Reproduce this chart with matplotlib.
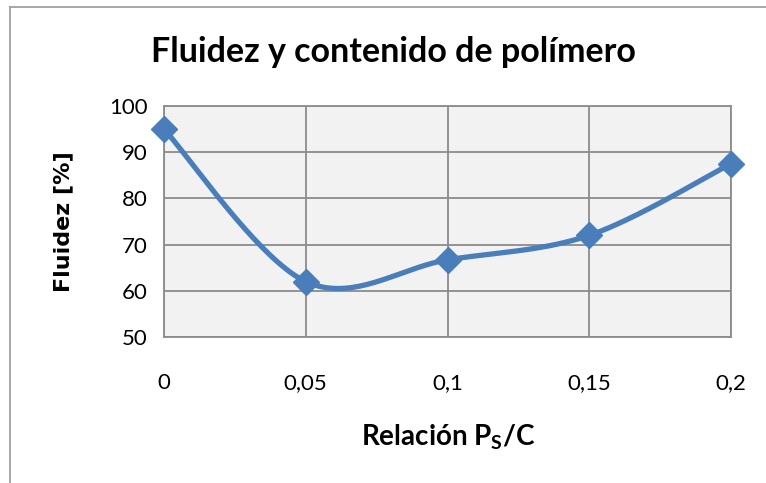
import numpy as np
import matplotlib
matplotlib.use("Agg")
import matplotlib.pyplot as plt
from matplotlib.lines import Line2D

x_vals = [0.0, 0.05, 0.1, 0.15, 0.2]
fluidez = [95.0, 62.0, 66.7, 72.0, 87.5]
x_ticklabels = ["0", "0,05", "0,1", "0,15", "0,2"]
y_ticks = [50, 60, 70, 80, 90, 100]

def smooth(xs, ys, n=40):
    # Excel-like smoothing: cubic Bezier with Catmull-Rom control points
    xs = np.asarray(xs, float); ys = np.asarray(ys, float)
    px = np.concatenate([[xs[0]], xs, [xs[-1]]])
    py = np.concatenate([[ys[0]], ys, [ys[-1]]])
    ox, oy = [], []
    for i in range(1, len(px) - 2):
        p0 = np.array([px[i-1], py[i-1]]); p1 = np.array([px[i], py[i]])
        p2 = np.array([px[i+1], py[i+1]]); p3 = np.array([px[i+2], py[i+2]])
        c1 = p1 + (p2 - p0) / 6.0
        c2 = p2 - (p3 - p1) / 6.0
        t = np.linspace(0, 1, n)[:, None]
        b = ((1-t)**3)*p1 + 3*((1-t)**2)*t*c1 + 3*(1-t)*t**2*c2 + t**3*p2
        ox.extend(b[:, 0]); oy.extend(b[:, 1])
    return np.array(ox), np.array(oy)

fig = plt.figure(figsize=(7.66, 4.83), dpi=100)
# chart-area frame (left and top edges visible)
fig.lines.append(Line2D([10/766, 10/766], [0, 1-7/483], transform=fig.transFigure,
                        color="#a0a0a0", linewidth=1.3))
fig.lines.append(Line2D([10/766, 1], [1-7/483, 1-7/483], transform=fig.transFigure,
                        color="#a0a0a0", linewidth=1.3))

ax = fig.add_axes([164/766, 1-337/483, (731-164)/766, (337-106)/483])
ax.set_facecolor("#f2f2f2")

sx, sy = smooth(x_vals, fluidez)
ax.plot(sx, sy, color="#4a7ebb", lw=3.8, solid_capstyle="round", zorder=3, clip_on=False)
ax.plot(x_vals, fluidez, linestyle="none", marker="D", markersize=13, color="#4a7ebb",
        zorder=4, clip_on=False)

ax.set_xlim(0, 0.2)
ax.set_ylim(50, 100)
ax.set_xticks(x_vals)
ax.set_xticklabels(x_ticklabels)
ax.set_yticks(y_ticks)
ax.grid(True, color="#8c8c8c", linewidth=1.3)
ax.set_axisbelow(True)
for s in ax.spines.values():
    s.set_color("#8c8c8c"); s.set_linewidth(1.3)
ax.tick_params(axis="both", length=0, labelsize=16, colors="black")
ax.tick_params(axis="x", pad=26)
ax.tick_params(axis="y", pad=12)
for lab in ax.get_xticklabels() + ax.get_yticklabels():
    lab.set_family("Lato")

fig.text(393/766, 1-52/483, "Fluidez y contenido de polímero", ha="center", va="center",
         fontsize=24.5, fontweight="bold", family="Lato")
fig.text(448/766, 1-437/483, r"Relación P$_\mathregular{S}$/C", ha="center", va="center",
         fontsize=20, fontweight="bold", family="Lato")
fig.text(63/766, 1-222/483, "Fluidez [%]", ha="center", va="center", rotation=90,
         fontsize=16, fontweight="bold", family="DejaVu Sans")

fig.savefig("out.png", dpi=100)
